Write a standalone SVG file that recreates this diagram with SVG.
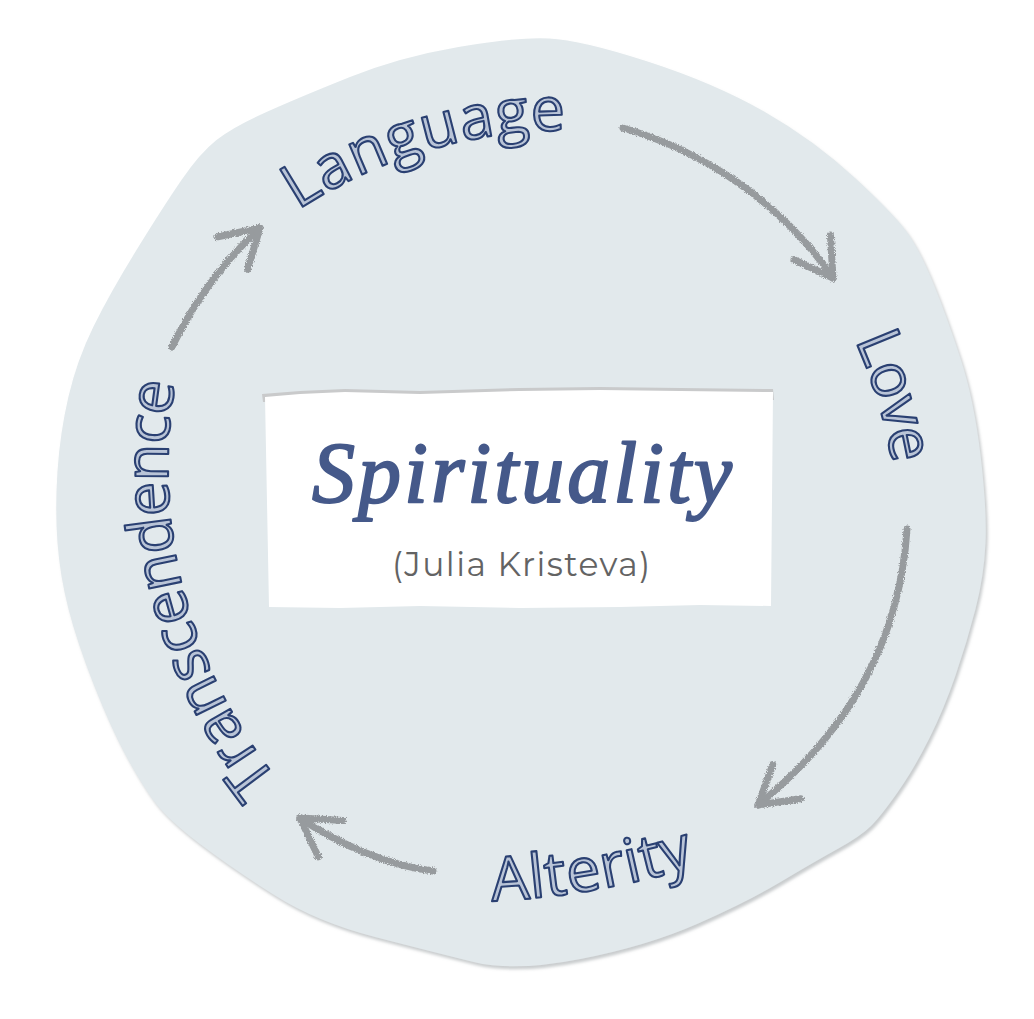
<svg xmlns="http://www.w3.org/2000/svg" width="1034" height="1019" viewBox="0 0 1034 1019">
<style>
.lbl{font-family:"Open Sans","DejaVu Sans",sans-serif;font-size:61px;font-weight:500;fill:#b9c4d7;stroke:#2a4072;stroke-width:2.1px;stroke-linejoin:round}
.arrow{fill:none;stroke:#979b9e;stroke-width:7;stroke-linecap:round;stroke-linejoin:round}
.title{font-family:"Liberation Serif","DejaVu Serif",serif;font-style:italic;font-size:86px;fill:#45598a;stroke:#45598a;stroke-width:2px;stroke-linejoin:round}
.sub{font-family:"Montserrat","Inter","Open Sans",sans-serif;font-size:33px;fill:#636363}
</style>
<defs>
<filter id="shadow" x="-5%" y="-5%" width="110%" height="110%">
<feDropShadow dx="2" dy="3" stdDeviation="1.5" flood-color="#9da3a6" flood-opacity="0.55"/>
</filter>
<filter id="chalk" filterUnits="userSpaceOnUse" x="0" y="0" width="1034" height="1019">
<feTurbulence type="fractalNoise" baseFrequency="0.9" numOctaves="2" seed="4" result="n"/>
<feDisplacementMap in="SourceGraphic" in2="n" scale="4" xChannelSelector="R" yChannelSelector="G"/>
</filter>
<marker id="head" markerUnits="userSpaceOnUse" markerWidth="90" markerHeight="90" viewBox="-45 -45 90 90" refX="0" refY="0" orient="auto" overflow="visible">
<path d="M-37,-22 L0,0 L-37,22" fill="none" stroke="#979b9e" stroke-width="7" stroke-linecap="round" stroke-linejoin="round"/>
</marker>
<path id="p-lang" d="M298,210 A490,490 0 0,1 732.6,159.6"/>
<path id="p-love" d="M855,340 A520,520 0 0,1 868.6,729.9"/>
<path id="p-alt" d="M492,901 A833,833 0 0,0 734.9,852.8"/>
<path id="p-trans" d="M278,780 A500,500 0 0,1 197.2,299"/>
</defs>
<rect width="1034" height="1019" fill="#ffffff"/>
<g id="background">
<path filter="url(#shadow)" fill="#e2e9ec" d="M549,38.5 Q581,40 647.5,61.5 Q714,83 764,111.5 Q814,140 855.5,178.5 Q897,217 909,235 Q921,253 934,285 Q947,317 960.5,358.5 Q974,400 980.5,455 Q987,510 985.5,543 Q984,576 975.5,609 Q967,642 955.5,675.5 Q944,709 929,739 Q914,769 897.5,792.5 Q881,816 871,826 Q861,836 837.5,849 Q814,862 780.5,882 Q747,902 697,924 Q647,946 580.5,959 Q514,972 473.5,962 Q433,952 375,937 Q317,922 275,895.5 Q233,869 200,844 Q167,819 153.5,800.5 Q140,782 125,754 Q110,726 93.5,684 Q77,642 68.5,609 Q60,576 57.5,542.5 Q55,509 57.5,471 Q60,433 68.5,396.5 Q77,360 93.5,326.5 Q110,293 136.5,250 Q163,207 181.5,180 Q200,153 216.5,140 Q233,127 266.5,112 Q300,97 350,77 Q400,57 458.5,47 Q517,37 549,38.5 Z"/>
</g>
<g id="node-center">
<polygon fill="#c9cacb" points="262,394 300,391 345,389 420,391 520,388 600,387 680,388 773,389 774,400 263,402"/>
<polygon fill="#ffffff" points="265,397 300,394 345,392 420,394 520,391 600,390 680,391 773,392 771,606 700,605 620,607 520,608 420,606 340,608 269,607"/>
<text class="title" x="312" y="502" textLength="420" lengthAdjust="spacing">Spirituality</text>
<text class="sub" x="392" y="576" textLength="258" lengthAdjust="spacing">(Julia Kristeva)</text>
</g>
<g id="node-language">
<text class="lbl"><textPath href="#p-lang" textLength="283" lengthAdjust="spacing">Language</textPath></text>
</g>
<g id="node-love">
<text class="lbl"><textPath href="#p-love" textLength="130" lengthAdjust="spacing">Love</textPath></text>
</g>
<g id="node-alterity">
<text class="lbl"><textPath href="#p-alt" textLength="207" lengthAdjust="spacing">Alterity</textPath></text>
</g>
<g id="node-transcendence">
<text class="lbl"><textPath href="#p-trans" textLength="423" lengthAdjust="spacing">Transcendence</textPath></text>
</g>
<g id="connectors" filter="url(#chalk)">
<path class="arrow" marker-end="url(#head)" d="M623,128 C700,150 780,200 833,278"/>
<path class="arrow" marker-end="url(#head)" d="M907,529 C900,640 850,730 758,805"/>
<path class="arrow" marker-end="url(#head)" d="M433,871 C390,866 340,845 300,818"/>
<path class="arrow" marker-end="url(#head)" d="M172,347 C195,300 225,260 260,228"/>
</g>
</svg>
